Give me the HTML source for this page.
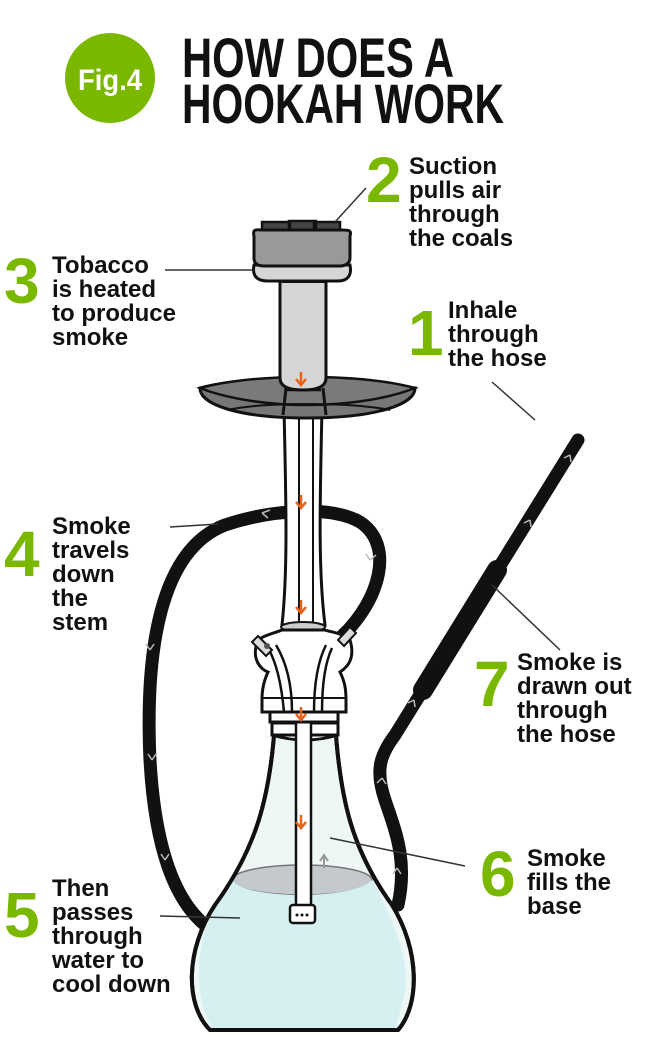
<!DOCTYPE html>
<html><head><meta charset="utf-8"><style>
html,body{margin:0;padding:0;background:#fff;}
svg{display:block;}
.t{font-family:"Liberation Sans Narrow","Liberation Sans",sans-serif;font-weight:bold;font-size:24px;fill:#111;}
.n{font-family:"Liberation Sans Narrow","Liberation Sans",sans-serif;font-weight:bold;font-size:64px;fill:#7ab800;}
.h{font-family:"Liberation Sans Narrow","Liberation Sans",sans-serif;font-weight:bold;font-size:56px;fill:#111;}
</style></head><body>
<svg width="650" height="1037" viewBox="0 0 650 1037" xmlns="http://www.w3.org/2000/svg">
<!-- header -->
<circle cx="110" cy="78" r="45" fill="#7ab800"/>
<text x="110" y="90" text-anchor="middle" font-family="Liberation Sans Narrow,Liberation Sans,sans-serif" font-weight="bold" font-size="30" fill="#fff" textLength="64" lengthAdjust="spacingAndGlyphs">Fig.4</text>
<text class="h" x="182" y="77" textLength="272" lengthAdjust="spacingAndGlyphs">HOW DOES A</text>
<text class="h" x="182" y="123" textLength="322" lengthAdjust="spacingAndGlyphs">HOOKAH WORK</text>

<!-- hoses (behind) -->
<path d="M342,636 C380,600 395,545 360,522 C330,505 270,510 225,525 C160,550 145,650 150,760 C155,850 175,900 205,925" fill="none" stroke="#111" stroke-width="13" stroke-linecap="round"/>
<path d="M398,905 C408,860 395,830 385,800 C375,770 380,755 395,735 L578,440" fill="none" stroke="#111" stroke-width="13" stroke-linecap="round"/>
<path d="M497,570 L423,690" fill="none" stroke="#111" stroke-width="20" stroke-linecap="round"/>
<g fill="none" stroke="#bbb" stroke-width="1.5">
<path d="M262,513 l8,-3 m-8,3 l6,5"/><path d="M150,650 l-4,-6 m4,6 l4,-6"/>
<path d="M152,760 l-4,-6 m4,6 l4,-6"/><path d="M165,860 l-4,-6 m4,6 l4,-6"/>
<path d="M370,560 l-4,-6 m4,6 l6,-5"/>
<path d="M570,455 l-6,3 m6,-3 l1,7"/><path d="M530,520 l-6,3 m6,-3 l1,7"/>
<path d="M414,700 l-6,3 m6,-3 l1,7"/><path d="M382,778 l-5,5 m5,-5 l4,6"/>
<path d="M397,868 l-4,6 m4,-6 l4,6"/>
</g>

<!-- glass base -->
<path d="M275,722 C270,800 255,850 215,905 C185,950 185,1005 210,1030 L398,1030 C420,1005 420,950 392,905 C352,850 340,800 335,722 Z" fill="#eef6f6" stroke="#111" stroke-width="4"/>
<ellipse cx="302" cy="880" rx="70" ry="15" fill="#c3c9cc" stroke="#777" stroke-width="1.5"/>
<path d="M232,880 C245,900 355,900 372,880 C385,905 410,950 405,990 C400,1015 395,1028 395,1028 L212,1028 C190,990 195,925 232,880Z" fill="#d6eff0"/>
<path d="M275,722 C270,800 255,850 215,905 C185,950 185,1005 210,1030 L398,1030 C420,1005 420,950 392,905 C352,850 340,800 335,722" fill="none" stroke="#111" stroke-width="4"/>
<path d="M272,723 L338,723 L338,735 L272,735Z M272,735 Q305,745 338,735" fill="#fff" stroke="#111" stroke-width="3"/>
<!-- inner tube -->
<rect x="296" y="720" width="15" height="188" fill="#fff" stroke="#111" stroke-width="2.5"/>
<rect x="290" y="905" width="25" height="18" rx="3" fill="#fff" stroke="#111" stroke-width="2.5"/>
<circle cx="297" cy="915" r="1.5" fill="#111"/><circle cx="302" cy="915" r="1.5" fill="#111"/><circle cx="307" cy="915" r="1.5" fill="#111"/>

<!-- stem -->
<path d="M284,408 C286,500 288,570 282,625 L325,625 C318,570 320,500 322,408 Z" fill="#fff" stroke="#111" stroke-width="3"/>
<rect x="299" y="410" width="14" height="310" fill="#fff" stroke="#111" stroke-width="2"/>
<ellipse cx="303" cy="627" rx="22" ry="5" fill="#ccc" stroke="#111" stroke-width="2"/>
<!-- valve assembly -->
<path d="M258,640 C250,660 262,670 268,672 C262,685 262,695 262,700 L262,712 L346,712 L346,700 C346,690 345,682 340,672 C346,668 356,660 350,640 C340,632 330,632 325,630 L282,630 C275,633 264,635 258,640Z" fill="#fff" stroke="#111" stroke-width="3"/>
<line x1="262" y1="698" x2="346" y2="698" stroke="#111" stroke-width="2"/>
<rect x="270" y="712" width="68" height="10" fill="#fff" stroke="#111" stroke-width="3"/>
<path d="M268,648 C278,665 282,690 284,712 M332,648 C324,665 322,690 322,712 M276,645 C288,665 292,690 292,712 M326,645 C316,665 314,690 314,712" fill="none" stroke="#111" stroke-width="2.5"/>
<path d="M258,636 L272,650 L266,656 L252,642Z" fill="#ddd" stroke="#111" stroke-width="2"/>
<circle cx="267" cy="646" r="3" fill="#555"/>
<path d="M338,640 L350,627 L356,633 L344,646Z" fill="#ddd" stroke="#111" stroke-width="2"/>

<!-- tray -->
<path d="M200,388 C200,405 240,418 307,418 C374,418 415,405 415,388 L400,390 C380,380 340,378 307,378 C270,378 230,380 200,388Z" fill="#777" stroke="#111" stroke-width="3"/>
<path d="M200,388 C230,380 270,377 307,377 C345,377 385,380 415,388 C390,398 350,405 307,405 C265,405 225,398 200,388Z" fill="#7a7a7a" stroke="#111" stroke-width="2.5"/>
<path d="M228,410 C260,402 350,402 390,410" fill="none" stroke="#111" stroke-width="2"/>
<path d="M286,388 L283,415 M323,388 L326,415" stroke="#111" stroke-width="3"/>
<path d="M287,390 L321,390" stroke="#111" stroke-width="2.5"/>

<!-- bowl head -->
<path d="M280,280 L280,378 C280,386 288,390 303,390 C318,390 326,386 326,378 L326,280Z" fill="#d6d6d6" stroke="#111" stroke-width="3"/>
<path d="M254,265 C252,275 256,281 268,281 L338,281 C348,281 352,275 350,265 Z" fill="#d6d6d6" stroke="#111" stroke-width="3"/>
<line x1="282" y1="282" x2="326" y2="282" stroke="#111" stroke-width="2"/>
<path d="M262,222 L290,222 L290,236 L262,236Z M289,221 L316,221 L316,236 L289,236Z M314,222 L340,222 L340,236 L314,236Z" fill="#444" stroke="#111" stroke-width="2.5"/>
<path d="M254,236 C252,228 258,230 262,230 L342,230 C348,230 352,230 350,236 L350,258 C350,264 344,266 340,266 L264,266 C258,266 254,264 254,258Z" fill="#999" stroke="#111" stroke-width="3"/>

<!-- orange arrows -->
<g stroke="#e8621a" stroke-width="2.5" fill="none">
<path d="M301,372 v12 m-5,-5 l5,6 l5,-6"/>
<path d="M301,495 v12 m-5,-5 l5,6 l5,-6"/>
<path d="M301,600 v12 m-5,-5 l5,6 l5,-6"/>
<path d="M301,707 v12 m-5,-5 l5,6 l5,-6"/>
<path d="M301,815 v12 m-5,-5 l5,6 l5,-6"/>
</g>
<path d="M324,868 v-12 m-4,5 l4,-6 l4,6" stroke="#999" stroke-width="2" fill="none"/>

<!-- leader lines -->
<g stroke="#333" stroke-width="1.5">
<line x1="335" y1="222" x2="366" y2="188"/>
<line x1="165" y1="270" x2="253" y2="270"/>
<line x1="492" y1="382" x2="535" y2="420"/>
<line x1="170" y1="527" x2="218" y2="524"/>
<line x1="492" y1="585" x2="560" y2="650"/>
<line x1="330" y1="838" x2="465" y2="866"/>
<line x1="160" y1="916" x2="240" y2="918"/>
</g>

<!-- labels -->
<text class="n" x="366" y="202">2</text>
<text class="t" x="409" y="174">Suction</text>
<text class="t" x="409" y="198">pulls air</text>
<text class="t" x="409" y="222">through</text>
<text class="t" x="409" y="246">the coals</text>

<text class="n" x="4" y="303">3</text>
<text class="t" x="52" y="273">Tobacco</text>
<text class="t" x="52" y="297">is heated</text>
<text class="t" x="52" y="321">to produce</text>
<text class="t" x="52" y="345">smoke</text>

<text class="n" x="408" y="355">1</text>
<text class="t" x="448" y="318">Inhale</text>
<text class="t" x="448" y="342">through</text>
<text class="t" x="448" y="366">the hose</text>

<text class="n" x="4" y="576">4</text>
<text class="t" x="52" y="534">Smoke</text>
<text class="t" x="52" y="558">travels</text>
<text class="t" x="52" y="582">down</text>
<text class="t" x="52" y="606">the</text>
<text class="t" x="52" y="630">stem</text>

<text class="n" x="474" y="706">7</text>
<text class="t" x="517" y="670">Smoke is</text>
<text class="t" x="517" y="694">drawn out</text>
<text class="t" x="517" y="718">through</text>
<text class="t" x="517" y="742">the hose</text>

<text class="n" x="480" y="896">6</text>
<text class="t" x="527" y="866">Smoke</text>
<text class="t" x="527" y="890">fills the</text>
<text class="t" x="527" y="914">base</text>

<text class="n" x="4" y="937">5</text>
<text class="t" x="52" y="896">Then</text>
<text class="t" x="52" y="920">passes</text>
<text class="t" x="52" y="944">through</text>
<text class="t" x="52" y="968">water to</text>
<text class="t" x="52" y="992">cool down</text>
</svg>
</body></html>
